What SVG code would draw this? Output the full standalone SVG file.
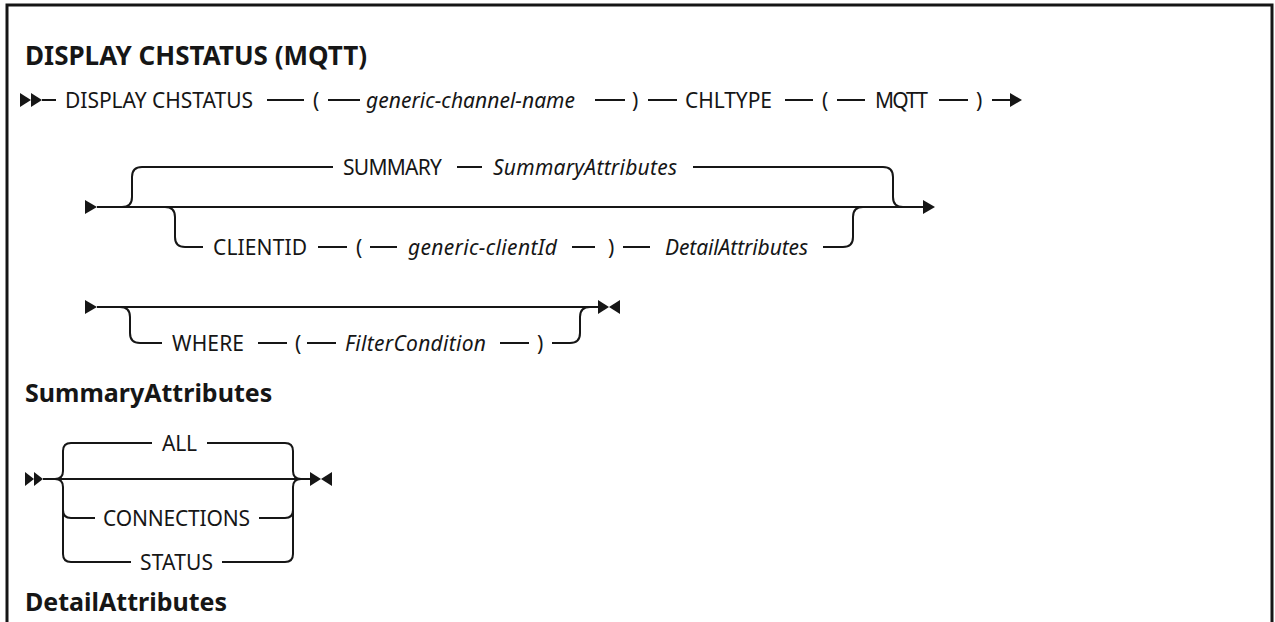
<svg xmlns="http://www.w3.org/2000/svg" width="1275" height="622" viewBox="0 0 1275 622">
<style>
.t{font-family:"Noto Sans","Liberation Sans",sans-serif;font-size:21px;fill:#161616}
.i{font-style:italic}
.h{font-family:"Noto Sans","Liberation Sans",sans-serif;font-size:25px;font-weight:bold;fill:#161616}
.l{stroke:#161616;stroke-width:2;fill:none}
.a{fill:#161616}
</style>
<rect width="1275" height="622" fill="#ffffff"/>
<path d="M7,622 L7,5 L1272,5 L1272,622" fill="none" stroke="#161616" stroke-width="3"/>
<g id="title"><text class="h" x="25" y="65" style="font-size:26px">DISPLAY CHSTATUS (MQTT)</text></g>
<g id="connectors">
<polygon class="a" points="20,93 31,100 20,107"/><polygon class="a" points="31,93 42,100 31,107"/>
<path class="l" d="M42,100 H56 M267,100 H304 M328,100 H360 M595,100 H625 M648,100 H677 M785,100 H813 M837,100 H865 M939,100 H968 M992,100 H1012"/>
<polygon class="a" points="1010,93 1022,100 1010,107"/>
<polygon class="a" points="85,200 97,207 85,214"/>
<path class="l" d="M97,207 H925"/>
<polygon class="a" points="923,200 935,207 923,214"/>
<path class="l" d="M122,207 Q132,207 132,197 V177 Q132,167 142,167 H333 M457,167 H482 M693,167 H883 Q893,167 893,177 V197 Q893,207 903,207"/>
<path class="l" d="M165,207 Q175,207 175,217 V237 Q175,247 185,247 H203 M318,247 H347 M370,247 H397 M572,247 H595 M623,247 H650 M823,247 H843 Q853,247 853,237 V217 Q853,207 863,207"/>
<polygon class="a" points="85,300 97,307 85,314"/>
<path class="l" d="M97,307 H600"/>
<polygon class="a" points="598,300 609,307 598,314"/><polygon class="a" points="620,300 609,307 620,314"/>
<path class="l" d="M120,307 Q130,307 130,317 V333 Q130,343 140,343 H162 M258,343 H287 M307,343 H336 M500,343 H529 M552,343 H570 Q580,343 580,333 V317 Q580,307 590,307"/>
<polygon class="a" points="25,472 34,479 25,486"/><polygon class="a" points="34,472 43,479 34,486"/>
<path class="l" d="M43,479 H312"/>
<polygon class="a" points="310,472 321,479 310,486"/><polygon class="a" points="332,472 321,479 332,486"/>
<path class="l" d="M55,479 Q63,479 63,471 V451 Q63,443 71,443 H152 M207,443 H285 Q293,443 293,451 V471 Q293,479 301,479"/>
<path class="l" d="M55,479 Q63,479 63,487 V554 Q63,562 71,562 H131 M222,562 H285 Q293,562 293,554 V487 Q293,479 301,479"/>
<path class="l" d="M63,510 Q63,518 71,518 H95 M259,518 H285 Q293,518 293,510"/>
</g>
<g id="row1">
<text class="t" x="65" y="108" textLength="188">DISPLAY CHSTATUS</text>
<text class="t" x="313" y="108">(</text>
<text class="t i" x="366" y="108" textLength="209">generic-channel-name</text>
<text class="t" x="632" y="108">)</text>
<text class="t" x="685" y="108" textLength="87">CHLTYPE</text>
<text class="t" x="822" y="108">(</text>
<text class="t" x="875" y="108" textLength="53">MQTT</text>
<text class="t" x="976" y="108">)</text>
</g>
<g id="row2">
<text class="t" x="343" y="174.5" textLength="99">SUMMARY</text>
<text class="t i" x="493" y="174.5" textLength="184">SummaryAttributes</text>
<text class="t" x="213" y="254.5" textLength="94">CLIENTID</text>
<text class="t" x="356" y="254.5">(</text>
<text class="t i" x="408" y="254.5" textLength="149">generic-clientId</text>
<text class="t" x="608" y="254.5">)</text>
<text class="t i" x="665" y="254.5" textLength="143">DetailAttributes</text>
</g>
<g id="row3">
<text class="t" x="172" y="350.5" textLength="72">WHERE</text>
<text class="t" x="295" y="350.5">(</text>
<text class="t i" x="345" y="350.5" textLength="141">FilterCondition</text>
<text class="t" x="537" y="350.5">)</text>
</g>
<g id="summary">
<text class="h" x="25" y="402">SummaryAttributes</text>
<text class="t" x="162" y="450.5" textLength="35">ALL</text>
<text class="t" x="103" y="525.5" textLength="147">CONNECTIONS</text>
<text class="t" x="140" y="569.5" textLength="73">STATUS</text>
</g>
<g id="detail"><text class="h" x="25" y="611">DetailAttributes</text></g>
</svg>
